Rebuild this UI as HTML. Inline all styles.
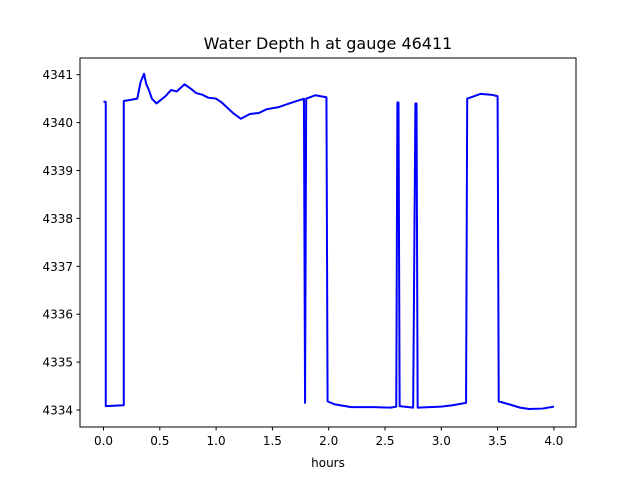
<!DOCTYPE html>
<html><head><meta charset="utf-8"><style>
body{margin:0;background:#fff;font-family:"Liberation Sans","DejaVu Sans",sans-serif}
svg text{font-family:"DejaVu Sans","Liberation Sans",sans-serif}
</style></head><body>
<svg id="chart" width="640" height="480">
<rect width="640" height="480" fill="#fff"/>
<text x="328" y="49" font-size="16" text-anchor="middle">Water Depth h at gauge 46411</text>
<g id="plot"></g>
<rect x="80" y="58" width="496" height="369" fill="none" stroke="#000" stroke-width="1"/>
<text x="328" y="467" font-size="12" text-anchor="middle">hours</text>
</svg>
<script>
const times=[0.0,0.02,0.02,0.18,0.18,0.3,0.33,0.36,0.38,0.4,0.43,0.47,0.55,0.6,0.65,0.72,0.78,0.82,0.88,0.93,1.0,1.05,1.15,1.22,1.3,1.38,1.45,1.55,1.65,1.78,1.79,1.80,1.88,1.98,1.99,2.05,2.1,2.2,2.4,2.55,2.6,2.61,2.62,2.63,2.75,2.77,2.78,2.79,3.0,3.1,3.22,3.23,3.35,3.45,3.5,3.51,3.6,3.7,3.78,3.9,4.0];
const depths=[4340.44,4340.43,4334.08,4334.1,4340.45,4340.5,4340.85,4341.02,4340.8,4340.7,4340.5,4340.4,4340.55,4340.68,4340.65,4340.8,4340.7,4340.62,4340.58,4340.52,4340.5,4340.42,4340.2,4340.08,4340.18,4340.2,4340.28,4340.32,4340.4,4340.5,4334.15,4340.5,4340.57,4340.53,4334.18,4334.12,4334.1,4334.06,4334.06,4334.05,4334.07,4340.42,4340.42,4334.08,4334.05,4340.4,4340.4,4334.05,4334.07,4334.1,4334.15,4340.5,4340.6,4340.58,4340.55,4334.18,4334.12,4334.05,4334.02,4334.03,4334.07];
const xTicks=[0,0.5,1,1.5,2,2.5,3,3.5,4];
const xTickLabels=["0.0","0.5","1.0","1.5","2.0","2.5","3.0","3.5","4.0"];
const yTicks=[4334,4335,4336,4337,4338,4339,4340,4341];
const yTickLabels=["4334","4335","4336","4337","4338","4339","4340","4341"];
const NS="http://www.w3.org/2000/svg";
const X=t=>103.5+t*112.6;
const Y=h=>410-(h-4334)*47.9;
const g=document.getElementById('plot');
function mk(tag,attrs){const e=document.createElementNS(NS,tag);for(const k in attrs)e.setAttribute(k,attrs[k]);return e;}
xTicks.forEach((t,i)=>{
 const l=mk('line',{x1:X(t),x2:X(t),y1:427,y2:430.5,stroke:'#000'});
 
 
 g.appendChild(l);
 const tx=mk('text',{x:X(t),y:445,'font-size':12,'text-anchor':'middle'});
 tx.textContent=xTickLabels[i];
 
 
 g.appendChild(tx);
});
yTicks.forEach((h,i)=>{
 const l=mk('line',{x1:76.5,x2:80,y1:Y(h),y2:Y(h),stroke:'#000'});
 
 
 g.appendChild(l);
 const tx=mk('text',{x:73,y:Y(h)+4.5,'font-size':12,'text-anchor':'end'});
 tx.textContent=yTickLabels[i];
 
 
 g.appendChild(tx);
});
const p=mk('polyline',{points:times.map((t,i)=>X(t)+','+Y(depths[i])).join(' '),fill:'none',stroke:'#0000ff','stroke-width':2,'stroke-linejoin':'round'});


g.appendChild(p);
</script>
</body></html>
